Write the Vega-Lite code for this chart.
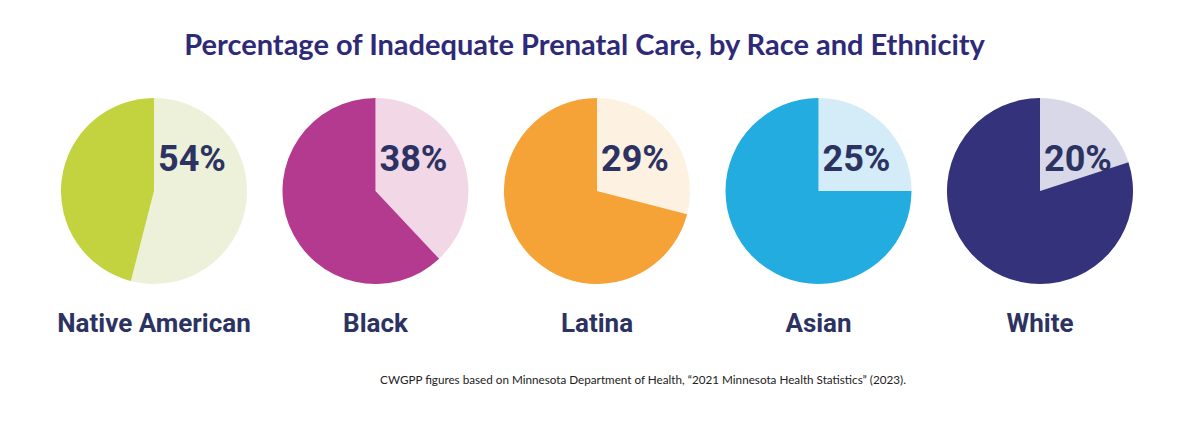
{
  "$schema": "https://vega.github.io/schema/vega-lite/v6.json",
  "padding": {"left": 57, "top": 32, "right": 0, "bottom": 0},
  "background": "white",
  "title": {
    "text": "Percentage of Inadequate Prenatal Care, by Race and Ethnicity",
    "font": "Lato",
    "fontSize": 29,
    "fontWeight": "bold",
    "color": "#2e2a78",
    "anchor": "middle",
    "dx": -11,
    "offset": 36
  },
  "spacing": 33,
  "vconcat": [
    {
      "data": {
        "values": [
          {"group": "Native American", "part": "Inadequate", "slice": "Native American inadequate", "pct": 54, "label": "54%"},
          {"group": "Native American", "part": "Other", "slice": "Native American other", "pct": 46, "label": "46%"},
          {"group": "Black", "part": "Inadequate", "slice": "Black inadequate", "pct": 38, "label": "38%"},
          {"group": "Black", "part": "Other", "slice": "Black other", "pct": 62, "label": "62%"},
          {"group": "Latina", "part": "Inadequate", "slice": "Latina inadequate", "pct": 29, "label": "29%"},
          {"group": "Latina", "part": "Other", "slice": "Latina other", "pct": 71, "label": "71%"},
          {"group": "Asian", "part": "Inadequate", "slice": "Asian inadequate", "pct": 25, "label": "25%"},
          {"group": "Asian", "part": "Other", "slice": "Asian other", "pct": 75, "label": "75%"},
          {"group": "White", "part": "Inadequate", "slice": "White inadequate", "pct": 20, "label": "20%"},
          {"group": "White", "part": "Other", "slice": "White other", "pct": 80, "label": "80%"}
        ]
      },
      "facet": {
        "column": {
          "field": "group",
          "type": "nominal",
          "sort": ["Native American", "Black", "Latina", "Asian", "White"],
          "title": null,
          "header": {
            "labelOrient": "bottom",
            "labelFont": "Roboto",
            "labelFontSize": 26,
            "labelFontWeight": "bold",
            "labelColor": "#2c3363",
            "labelPadding": 26
          }
        }
      },
      "spacing": 33.5,
      "spec": {
        "width": 188,
        "height": 188,
        "layer": [
          {
            "mark": {"type": "arc", "outerRadius": 93},
            "encoding": {
              "theta": {"field": "pct", "type": "quantitative", "stack": true},
              "order": {"field": "part", "type": "nominal", "sort": "ascending"},
              "color": {
                "field": "slice",
                "type": "nominal",
                "legend": null,
                "scale": {
                  "domain": ["Native American inadequate", "Native American other", "Black inadequate", "Black other", "Latina inadequate", "Latina other", "Asian inadequate", "Asian other", "White inadequate", "White other"],
                  "range": ["#eef1d9", "#c3d23f", "#f2d8e7", "#b33a8f", "#fdf2e1", "#f5a236", "#d4ecf7", "#22ace0", "#d8d8e8", "#33327a"]
                }
              }
            }
          },
          {
            "transform": [{"filter": "datum.part == 'Inadequate'"}],
            "mark": {
              "type": "text",
              "radius": 49,
              "theta": 0.887,
              "align": "center",
              "baseline": "middle",
              "font": "Roboto",
              "fontSize": 36,
              "fontWeight": "bold",
              "color": "#2c3363"
            },
            "encoding": {
              "text": {"field": "label", "type": "nominal"}
            }
          }
        ]
      }
    },
    {
      "data": {
        "values": [
          {"note": "CWGPP figures based on Minnesota Department of Health, “2021 Minnesota Health Statistics” (2023)."}
        ]
      },
      "width": 1074,
      "height": 20,
      "mark": {
        "type": "text",
        "font": "Lato",
        "fontSize": 11.7,
        "color": "#222222",
        "align": "center",
        "baseline": "middle",
        "dx": 46
      },
      "encoding": {
        "text": {"field": "note", "type": "nominal"}
      }
    }
  ],
  "config": {"view": {"stroke": null}}
}
